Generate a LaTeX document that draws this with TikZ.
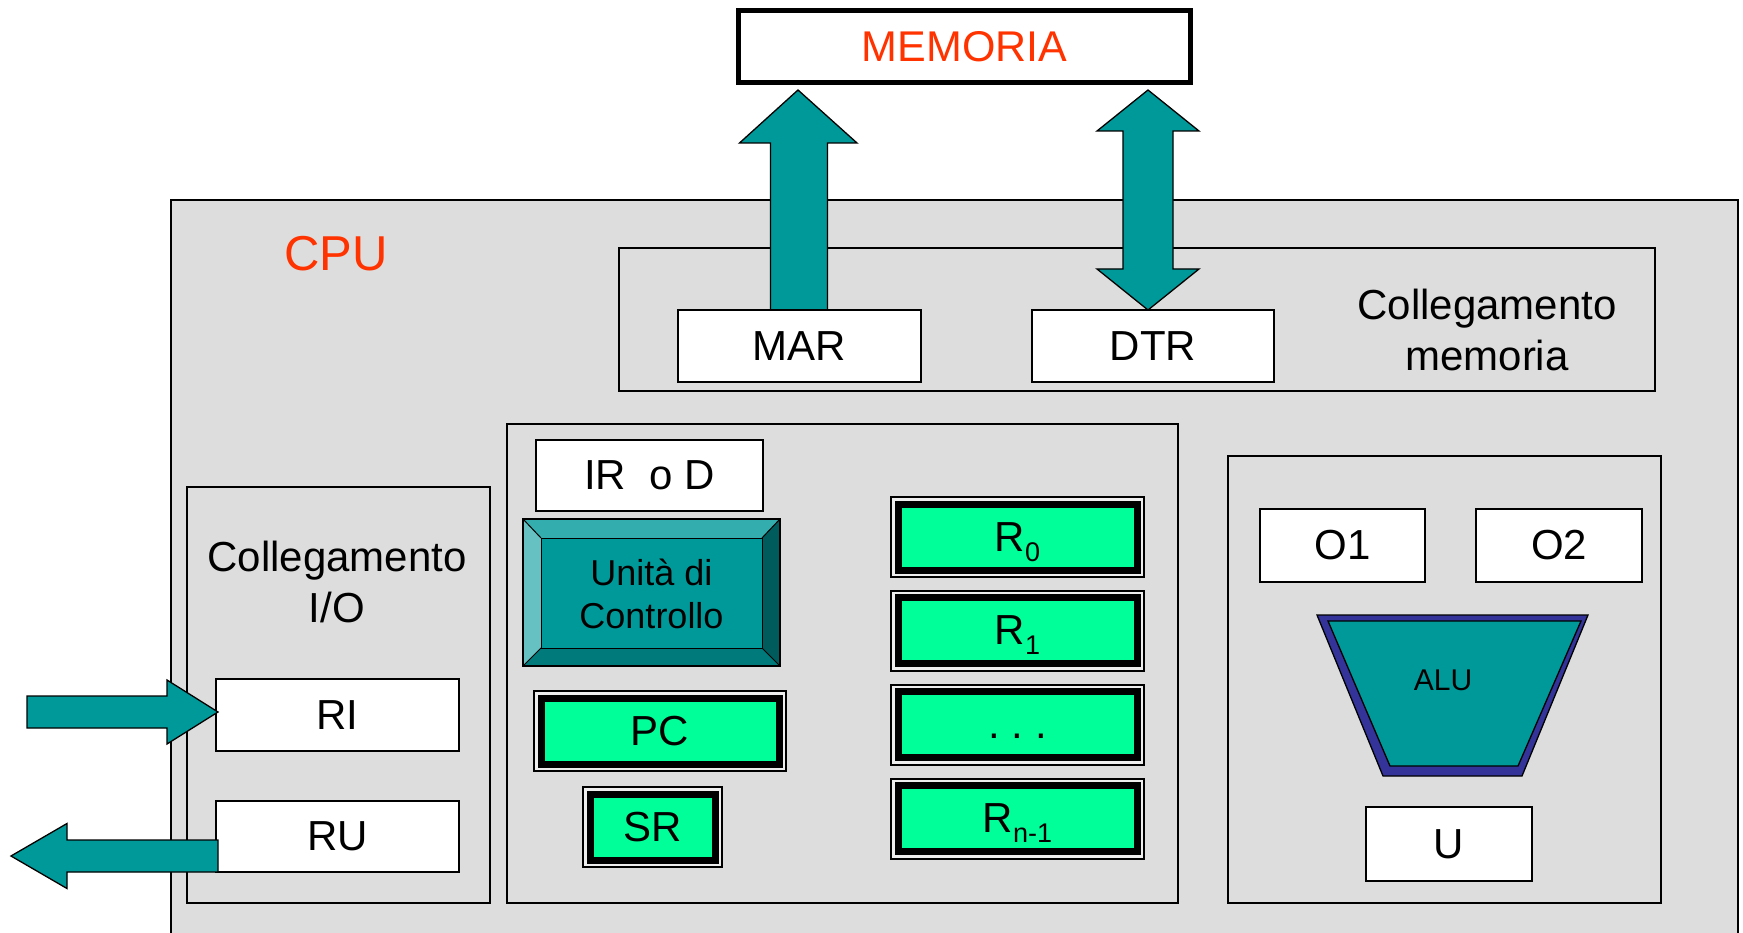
\documentclass[tikz,border=0pt]{standalone}
\usepackage{fontspec}
\setmainfont{Liberation Sans}
\usetikzlibrary{calc}
\definecolor{bg}{HTML}{DDDDDD}
\definecolor{tealf}{HTML}{009999}
\definecolor{regg}{HTML}{00FF99}
\definecolor{redt}{HTML}{FF3300}
\definecolor{alublue}{HTML}{333399}
\definecolor{gapg}{HTML}{EEEEEE}
\definecolor{bevT}{HTML}{33ADAD}
\definecolor{bevL}{HTML}{66C2C2}
\definecolor{bevR}{HTML}{005C5C}
\definecolor{bevB}{HTML}{007A7A}
\newcommand{\regsub}[1]{\smash{\raisebox{-10pt}{\fontsize{27}{30}\selectfont #1}}}
\begin{document}
\begin{tikzpicture}[x=1pt,y=-1pt,
  box/.style={draw=black, line width=1.3pt, inner sep=0pt, outer sep=0pt},
  wbox/.style={box, fill=white, font=\fontsize{42}{50}\selectfont},
  panel/.style={box, fill=bg},
  regbox/.style={draw=black, line width=7pt, fill=regg, inner sep=0pt, outer sep=0pt,
     font=\fontsize{42}{50}\selectfont,
     preaction={draw=black, line width=16pt},
     preaction={draw=gapg, line width=12pt}},
  blk/.style={fill=tealf, draw=black, line width=1.3pt, line join=miter},
  lbl/.style={inner sep=0pt, align=center, font=\fontsize{42}{51}\selectfont},
]
\useasboundingbox (0,0) rectangle (1743,933);
\fill[white] (0,0) rectangle (1743,933);

% memory
\node[box, fill=white, line width=5pt, minimum width=452pt, minimum height=72pt,
      text=redt, font=\fontsize{43}{50}\selectfont] (mem) at (964.5,46.5) {MEMORIA};

% CPU frame
\node[panel, minimum width=1567pt, minimum height=745pt] (cpu) at (954.5,572.5) {};
\node[inner sep=0pt, text=redt, font=\fontsize{49}{56}\selectfont] (cpulbl) at (336,254) {CPU};

% memory link
\node[panel, minimum width=1036pt, minimum height=143pt] (collmem) at (1137,319.5) {};
\node[lbl] (collmemlbl) at (1487,330) {Collegamento\\memoria};

% arrows to memory
\draw[blk, shift={(799.5,310)}] (-29,0) -- (-29,-167) -- (-60,-167) -- (-1.5,-220)
   -- (57.5,-167) -- (28,-167) -- (28,0) -- cycle;
\draw[blk, shift={(1148,310)}] (0,0) -- (-51,-41) -- (-25,-41) -- (-25,-179) -- (-51,-179)
   -- (0,-220) -- (51,-179) -- (25,-179) -- (25,-41) -- (51,-41) -- cycle;

\node[wbox, minimum width=243pt, minimum height=72pt] (mar) at (799.5,346) {MAR};
\node[wbox, minimum width=242pt, minimum height=72pt] (dtr) at (1153,346) {DTR};

% central block
\node[panel, minimum width=671pt, minimum height=479pt] (central) at (842.5,663.5) {};
\node[wbox, minimum width=227pt, minimum height=71pt] (ir) at (649.5,475.5) {IR\ \ o D};

% control unit (bevelled)
\node[draw=black, line width=2pt, fill=tealf, inner sep=0pt, outer sep=0pt,
      minimum width=257pt, minimum height=147pt] (cu) at (651.5,592.5) {};
\fill[bevT] (cu.north west) -- (cu.north east) -- ($(cu.north east)+(-18,19)$) -- ($(cu.north west)+(18,19)$) -- cycle;
\fill[bevL] (cu.north west) -- ($(cu.north west)+(18,19)$) -- ($(cu.south west)+(18,-18)$) -- (cu.south west) -- cycle;
\fill[bevR] (cu.north east) -- ($(cu.north east)+(-18,19)$) -- ($(cu.south east)+(-18,-18)$) -- (cu.south east) -- cycle;
\fill[bevB] (cu.south west) -- ($(cu.south west)+(18,-18)$) -- ($(cu.south east)+(-18,-18)$) -- (cu.south east) -- cycle;
\draw[line width=1pt] ($(cu.north west)+(18,19)$) rectangle ($(cu.south east)+(-18,-18)$);
\draw[line width=1pt] (cu.north west) -- ($(cu.north west)+(18,19)$)
  (cu.north east) -- ($(cu.north east)+(-18,19)$)
  (cu.south west) -- ($(cu.south west)+(18,-18)$)
  (cu.south east) -- ($(cu.south east)+(-18,-18)$);
\draw[line width=2pt] (cu.north west) rectangle (cu.south east);
\node[inner sep=0pt, align=center, font=\fontsize{36}{43}\selectfont] (culbl) at (651.5,594) {Unità di\\Controllo};

% PC, SR
\node[regbox, minimum width=238pt, minimum height=66pt] (pc) at (660,731) {PC};
\node[regbox, minimum width=125pt, minimum height=66pt] (sr) at (652.5,827) {SR};

% general registers
\node[regbox, minimum width=239pt, minimum height=66pt] (r0) at (1017.5,537) {R\regsub{0}};
\node[regbox, minimum width=239pt, minimum height=66pt] (r1) at (1017.5,630.5) {R\regsub{1}};
\node[regbox, minimum width=239pt, minimum height=66pt] (rdots) at (1017.5,724.5) {\vphantom{R}.\ .\ .};
\node[regbox, minimum width=239pt, minimum height=66pt] (rn) at (1017.5,818.5) {R\regsub{n-1}};

% I/O block
\node[panel, minimum width=303pt, minimum height=416pt] (io) at (338.5,695) {};
\node[lbl] (iolbl) at (337,582) {Collegamento\\I/O};
\node[wbox, minimum width=243pt, minimum height=72pt] (ri) at (337.5,715) {RI};
\node[wbox, minimum width=243pt, minimum height=71pt] (ru) at (337.5,836.5) {RU};
\draw[blk, shift={($(ri.west)+(2,-3)$)}] (0,0) -- (-51,-32) -- (-51,-16) -- (-191,-16)
   -- (-191,16) -- (-51,16) -- (-51,32) -- cycle;
\draw[blk, shift={($(ru.west)+(2,19.5)$)}] (0,-16) -- (-151,-16) -- (-151,-32.5) -- (-207,0)
   -- (-151,32.5) -- (-151,16) -- (0,16) -- cycle;

% ALU block
\node[panel, minimum width=433pt, minimum height=447pt] (alublk) at (1444.5,679.5) {};
\node[wbox, minimum width=165pt, minimum height=73pt] (o1) at (1342.5,545.5) {O1};
\node[wbox, minimum width=166pt, minimum height=73pt] (o2) at (1559,545.5) {O2};
\draw[fill=alublue, draw=black, line width=1.3pt] (1317,615) -- (1588,615) -- (1522,776) -- (1383,776) -- cycle;
\draw[fill=tealf, draw=black, line width=1.3pt] (1328,621) -- (1581,621) -- (1518,766) -- (1390,766) -- cycle;
\node[inner sep=0pt, font=\fontsize{30}{36}\selectfont] (alu) at (1443,680) {ALU};
\node[wbox, minimum width=166pt, minimum height=74pt] (u) at (1449,844) {U};
\end{tikzpicture}
\end{document}
